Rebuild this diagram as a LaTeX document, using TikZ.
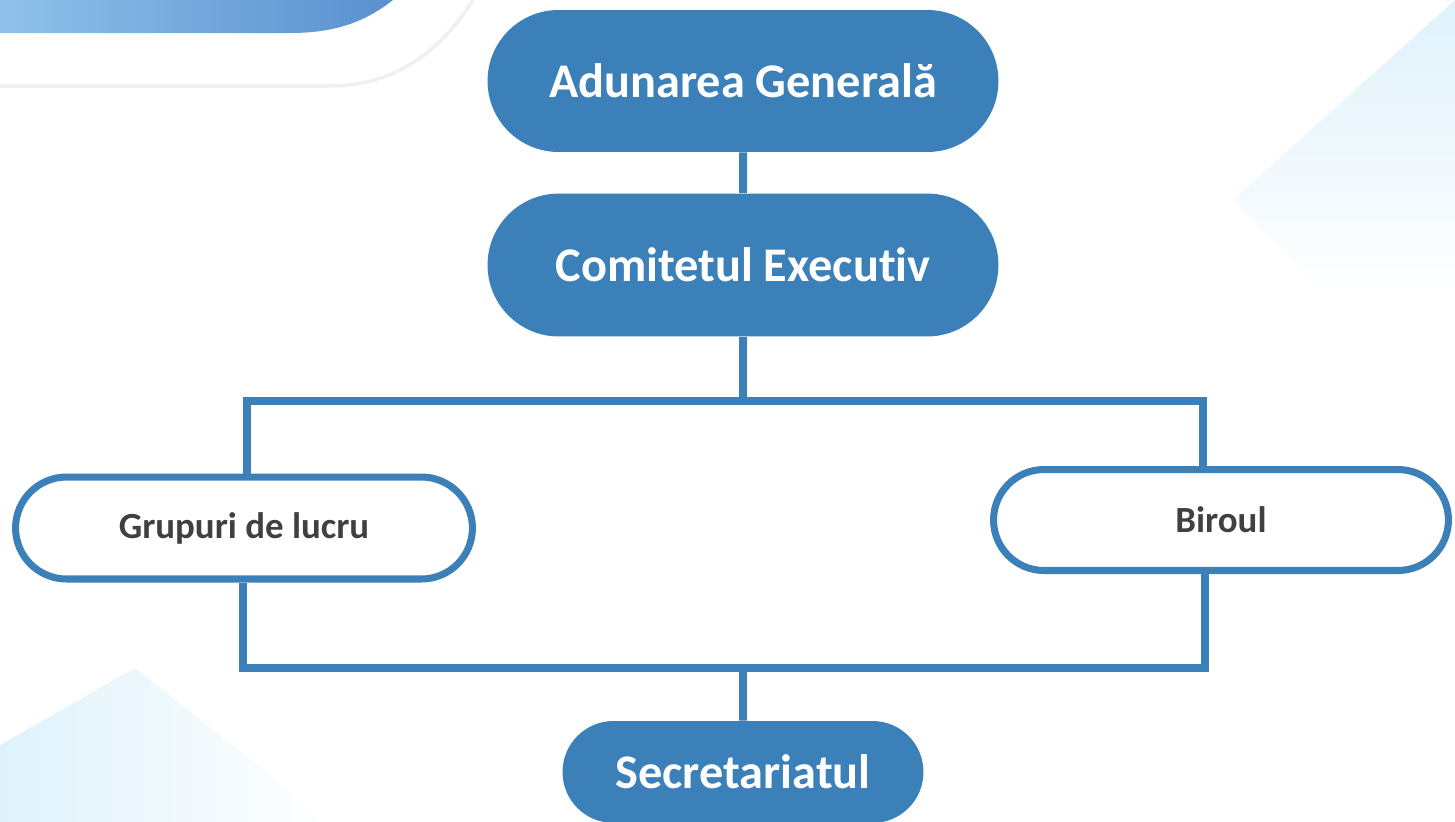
\documentclass[tikz,border=0pt]{standalone}
\usepackage{fontspec}
\setmainfont{Carlito}[Ligatures=NoCommon]
\usepackage{tikz}
\usetikzlibrary{shapes.misc}
\usetikzlibrary{calc}
\definecolor{boxblue}{HTML}{3B80B8}
\definecolor{textgray}{HTML}{404040}
\definecolor{barleft}{HTML}{8FC1E9}
\definecolor{barright}{HTML}{5A90CF}
\definecolor{paleblue}{HTML}{DFF2FB}

\begin{document}
\begin{tikzpicture}[x=0.02cm, y=-0.02cm]
	\useasboundingbox (0,0) rectangle (1455,822);

	% background corners
	\shade[left color=barleft, right color=barright] (0,0) -- (393,0) .. controls (365,22) and (335,33) .. (290,33) -- (0,33) -- cycle;
	\draw[gray!12, line width=2pt] (0,86) -- (330,86) .. controls (400,86) and (445,45) .. (473,0);
	\shade[top color=paleblue, bottom color=white] (1455,0) -- (1233,200) -- (1330,300) -- (1455,300) -- cycle;
	\shade[left color=paleblue, right color=white] (0,822) -- (0,745) -- (135,668) -- (330,822) -- cycle;

	\begin{scope}[every node/.style={rounded rectangle, fill=boxblue, text=white, inner sep=0pt,
	              font=\bfseries\fontsize{27.5}{32}\selectfont}]
		\node[minimum width=10.22cm, minimum height=2.84cm] (ag) at (743,81) {Adunarea Generală};
		\node[minimum width=10.22cm, minimum height=2.86cm] (ce) at (743,265) {Comitetul Executiv};
		\node[minimum width=7.22cm, minimum height=2.04cm] (se) at (743,772) {Secretariatul};
	\end{scope}

	\begin{scope}[every node/.style={rounded rectangle, draw=boxblue, line width=4pt, fill=white, text=textgray,
	              inner sep=0pt, font=\bfseries\fontsize{21}{25}\selectfont}]
		\node[minimum width=9.14cm, minimum height=2.04cm] (gl) at (244,528) {Grupuri de lucru};
		\node[minimum width=9.1cm, minimum height=2.02cm] (bi) at (1221,520) {Biroul};
	\end{scope}

	\begin{scope}[draw=boxblue, line width=4.5pt]
		\coordinate (upL) at (247,401);
		\coordinate (upR) at (1203,401);
		\coordinate (loL) at (243,668);
		\coordinate (loR) at (1205,668);
		\draw (ag) -- (ce);
		\draw (ce) -- (ce |- upL);
		\draw (gl.north -| upL) -- (upL) -- (upR) -- (bi.north -| upR);
		\draw (gl.south -| loL) -- (loL) -- (loR) -- (bi.south -| loR);
		\draw (se) -- (se |- loL);
	\end{scope}
\end{tikzpicture}
\end{document}
